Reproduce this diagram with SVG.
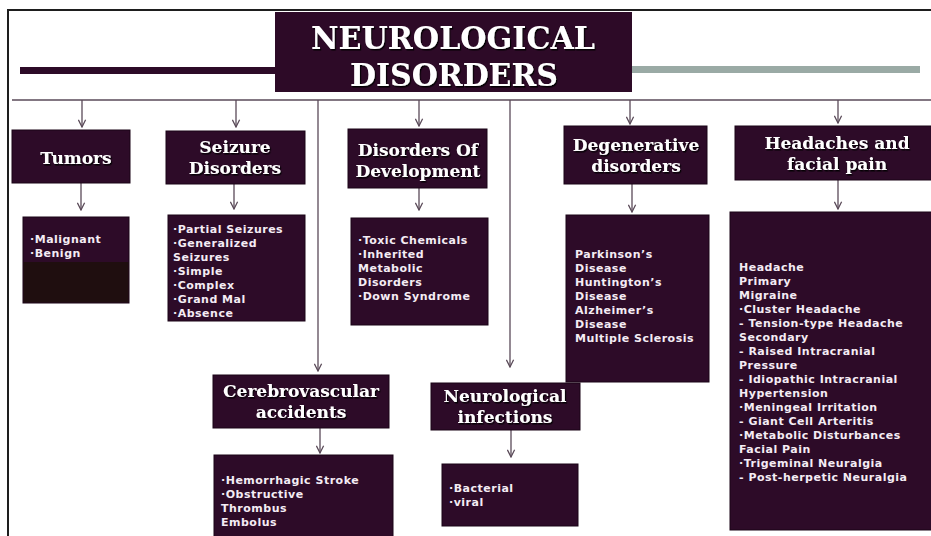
<svg xmlns="http://www.w3.org/2000/svg" width="931" height="536" viewBox="0 0 931 536">
<defs>
<style>
.box{fill:#2d0b28;stroke:#1a0517;stroke-width:1}
.hd{font-family:"DejaVu Serif","Liberation Serif",serif;font-weight:bold;font-size:17px;fill:#ffffff;text-anchor:middle;filter:url(#sh)}
.tt{font-family:"DejaVu Serif","Liberation Serif",serif;font-weight:bold;font-size:32px;fill:#ffffff;text-anchor:middle;filter:url(#sh)}
.tx{font-family:"DejaVu Sans","Verdana",sans-serif;font-weight:bold;font-size:11px;letter-spacing:0.5px;fill:#f4ecf4}
.ln{stroke:#5a4a58;stroke-width:1.3;fill:none}
.ar{stroke:#5a4a58;stroke-width:1.3;fill:none;marker-end:url(#ah)}
</style>
<filter id="sh" x="-10%" y="-20%" width="120%" height="150%">
<feDropShadow dx="1.2" dy="1.5" stdDeviation="0.6" flood-color="#000000" flood-opacity="0.9"/>
</filter>
<marker id="ah" viewBox="0 0 10 10" refX="9" refY="5" markerWidth="9" markerHeight="9" markerUnits="userSpaceOnUse" orient="auto">
<path d="M1,1 L9,5 L1,9" fill="none" stroke="#5a4a58" stroke-width="1.4"/>
</marker>
</defs>
<rect x="0" y="0" width="931" height="536" fill="#ffffff"/>
<!-- frame -->
<path d="M8,536 L8,10 L931,10" fill="none" stroke="#1e1e1e" stroke-width="2"/>
<!-- decorative bars -->
<rect x="20" y="67" width="255" height="7" fill="#2d0b28"/>
<rect x="632" y="66" width="288" height="7" fill="#9aaaa5"/>

<g id="connectors">
<line class="ln" x1="12" y1="100" x2="931" y2="100"/>
<line class="ar" x1="82" y1="100" x2="82" y2="127"/>
<line class="ar" x1="236" y1="100" x2="236" y2="127"/>
<line class="ar" x1="419" y1="100" x2="419" y2="126"/>
<line class="ar" x1="630" y1="100" x2="630" y2="124"/>
<line class="ar" x1="838" y1="100" x2="838" y2="123"/>
<line class="ar" x1="318" y1="100" x2="318" y2="371"/>
<line class="ar" x1="510" y1="100" x2="510" y2="367"/>
<line class="ar" x1="81" y1="183" x2="81" y2="210"/>
<line class="ar" x1="234" y1="184" x2="234" y2="209"/>
<line class="ar" x1="419" y1="188" x2="419" y2="210"/>
<line class="ar" x1="632" y1="184" x2="632" y2="212"/>
<line class="ar" x1="838" y1="180" x2="838" y2="209"/>
<line class="ar" x1="320" y1="428" x2="320" y2="453"/>
<line class="ar" x1="511" y1="430" x2="511" y2="457"/>
</g>

<g id="title">
<rect x="275" y="12" width="357" height="80" fill="#2d0a27"/>
<text class="tt" x="453" y="49" textLength="284" lengthAdjust="spacingAndGlyphs">NEUROLOGICAL</text>
<text class="tt" x="454" y="86" textLength="208" lengthAdjust="spacingAndGlyphs">DISORDERS</text>
</g>

<g id="tumors">
<rect class="box" x="12" y="130" width="118" height="53"/>
<text class="hd" x="76" y="164">Tumors</text>
</g>
<g id="tumors-list">
<rect class="box" x="23" y="217" width="106" height="86"/>
<rect x="23.5" y="262" width="105" height="40.5" fill="#1f0e0f"/>
<text class="tx" x="30" y="243">·Malignant</text>
<text class="tx" x="30" y="257">·Benign</text>
</g>

<g id="seizure">
<rect class="box" x="166" y="131" width="139" height="53"/>
<text class="hd" x="235" y="153">Seizure</text>
<text class="hd" x="235" y="174">Disorders</text>
</g>
<g id="seizure-list">
<rect class="box" x="168" y="215" width="137" height="106"/>
<text class="tx" x="173" y="233">·Partial Seizures</text>
<text class="tx" x="173" y="247">·Generalized</text>
<text class="tx" x="173" y="261">Seizures</text>
<text class="tx" x="173" y="275">·Simple</text>
<text class="tx" x="173" y="289">·Complex</text>
<text class="tx" x="173" y="303">·Grand Mal</text>
<text class="tx" x="173" y="317">·Absence</text>
</g>

<g id="development">
<rect class="box" x="348" y="129" width="139" height="59"/>
<text class="hd" x="418" y="156">Disorders Of</text>
<text class="hd" x="418" y="177">Development</text>
</g>
<g id="development-list">
<rect class="box" x="351" y="218" width="137" height="107"/>
<text class="tx" x="358" y="244">·Toxic Chemicals</text>
<text class="tx" x="358" y="258">·Inherited</text>
<text class="tx" x="358" y="272">Metabolic</text>
<text class="tx" x="358" y="286">Disorders</text>
<text class="tx" x="358" y="300">·Down Syndrome</text>
</g>

<g id="degenerative">
<rect class="box" x="564" y="126" width="143" height="58"/>
<text class="hd" x="636" y="151">Degenerative</text>
<text class="hd" x="636" y="172">disorders</text>
</g>
<g id="degenerative-list">
<rect class="box" x="566" y="215" width="143" height="167"/>
<text class="tx" x="575" y="258">Parkinson’s</text>
<text class="tx" x="575" y="272">Disease</text>
<text class="tx" x="575" y="286">Huntington’s</text>
<text class="tx" x="575" y="300">Disease</text>
<text class="tx" x="575" y="314">Alzheimer’s</text>
<text class="tx" x="575" y="328">Disease</text>
<text class="tx" x="575" y="342">Multiple Sclerosis</text>
</g>

<g id="headaches">
<rect class="box" x="735" y="126" width="200" height="54"/>
<text class="hd" x="837" y="149">Headaches and</text>
<text class="hd" x="837" y="170">facial pain</text>
</g>
<g id="headaches-list">
<rect class="box" x="730" y="212" width="205" height="318"/>
<text class="tx" x="739" y="271">Headache</text>
<text class="tx" x="739" y="285">Primary</text>
<text class="tx" x="739" y="299">Migraine</text>
<text class="tx" x="739" y="313">·Cluster Headache</text>
<text class="tx" x="739" y="327">- Tension-type Headache</text>
<text class="tx" x="739" y="341">Secondary</text>
<text class="tx" x="739" y="355">- Raised Intracranial</text>
<text class="tx" x="739" y="369">Pressure</text>
<text class="tx" x="739" y="383">- Idiopathic Intracranial</text>
<text class="tx" x="739" y="397">Hypertension</text>
<text class="tx" x="739" y="411">·Meningeal Irritation</text>
<text class="tx" x="739" y="425">- Giant Cell Arteritis</text>
<text class="tx" x="739" y="439">·Metabolic Disturbances</text>
<text class="tx" x="739" y="453">Facial Pain</text>
<text class="tx" x="739" y="467">·Trigeminal Neuralgia</text>
<text class="tx" x="739" y="481">- Post-herpetic Neuralgia</text>
</g>

<g id="cerebrovascular">
<rect class="box" x="213" y="375" width="176" height="53"/>
<text class="hd" x="301" y="397">Cerebrovascular</text>
<text class="hd" x="301" y="418">accidents</text>
</g>
<g id="cerebrovascular-list">
<rect class="box" x="214" y="455" width="179" height="86"/>
<text class="tx" x="221" y="484">·Hemorrhagic Stroke</text>
<text class="tx" x="221" y="498">·Obstructive</text>
<text class="tx" x="221" y="512">Thrombus</text>
<text class="tx" x="221" y="526">Embolus</text>
</g>

<g id="infections">
<rect class="box" x="431" y="383" width="149" height="47"/>
<text class="hd" x="505" y="402">Neurological</text>
<text class="hd" x="505" y="423">infections</text>
</g>
<g id="infections-list">
<rect class="box" x="442" y="464" width="136" height="62"/>
<text class="tx" x="449" y="492">·Bacterial</text>
<text class="tx" x="449" y="506">·viral</text>
</g>
</svg>
